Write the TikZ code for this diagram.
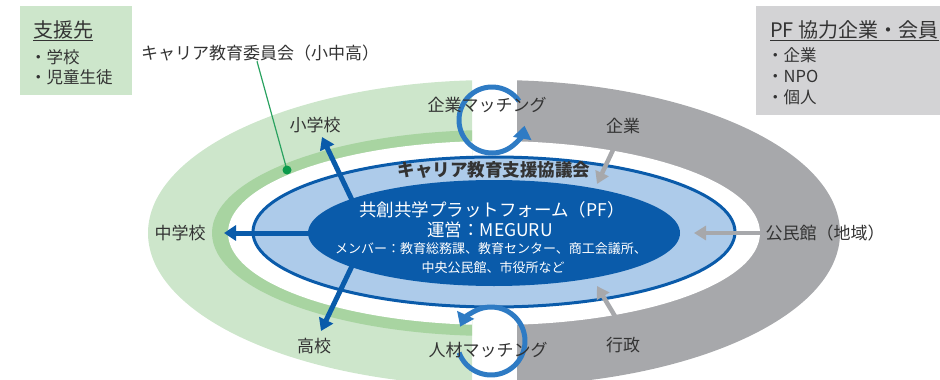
\documentclass[tikz,border=0pt]{standalone}
\usepackage{fontspec}
\setmainfont{Noto Sans CJK JP}
\usetikzlibrary{arrows.meta,shapes.geometric}
\definecolor{lgreen}{HTML}{CDE6CB}
\definecolor{dgreen}{HTML}{A8D4A1}
\definecolor{ringgray}{HTML}{A7A8AB}
\definecolor{boxgray}{HTML}{D3D3D5}
\definecolor{lblue}{HTML}{ADCBEA}
\definecolor{dblue}{HTML}{0A5BAA}
\definecolor{cblue}{HTML}{2E7BC4}
\definecolor{txt}{HTML}{333333}
\definecolor{gline}{HTML}{2AA260}
\definecolor{gdot}{HTML}{0B9A4B}
\begin{document}
\begin{tikzpicture}[x=1pt,y=-1pt,
  lbl/.style={text=txt, font=\fontsize{17}{20}\selectfont, inner sep=0pt},
  boxtitle/.style={text=txt, font=\fontsize{20}{24}\selectfont, inner sep=0pt, anchor=west},
  boxitem/.style={text=txt, font=\fontsize{16.5}{20}\selectfont, inner sep=0pt, anchor=west},
  wtxt/.style={text=white, inner sep=0pt},
  bluearrow/.style={draw=dblue, line width=5pt, -{Triangle[length=12pt,width=15pt]}},
  grayarrow/.style={draw=ringgray, line width=4.5pt, -{Triangle[length=12pt,width=14pt]}},
  cyc/.style={draw=cblue, line width=5pt, -{Triangle[length=13pt,width=18pt]}},
]
\useasboundingbox (0,0) rectangle (940,380);
\coordinate (C) at (494,233);
% green half ring
\begin{scope}
\clip (0,0) rectangle (472,380);
\fill[lgreen] (C) ellipse [x radius=346pt, y radius=153pt];
\fill[dgreen] (C) ellipse [x radius=282pt, y radius=103pt];
\fill[white] (C) ellipse [x radius=266pt, y radius=92pt];
\end{scope}
% gray half ring
\begin{scope}
\clip (517,0) rectangle (945,380);
\fill[ringgray] (C) ellipse [x radius=346pt, y radius=153pt];
\fill[white] (C) ellipse [x radius=266pt, y radius=92pt];
\end{scope}
% council ellipse
\node[ellipse, draw=dblue, line width=3pt, fill=lblue, minimum width=482pt, minimum height=150pt, inner sep=0pt] (council) at (494,232) {};
% blue arrows
\coordinate (shouT) at (352,200); \coordinate (shouH) at (322,137);
\coordinate (chuT) at (320,233);  \coordinate (chuH) at (224,233);
\coordinate (kouT) at (352,266);  \coordinate (kouH) at (321,331);
\draw[bluearrow] (shouT) -- (shouH);
\draw[bluearrow] (chuT) -- (chuH);
\draw[bluearrow] (kouT) -- (kouH);
% gray arrows
\coordinate (kigT) at (620,135); \coordinate (kigH) at (597,184);
\coordinate (komT) at (765,233); \coordinate (komH) at (694,233);
\coordinate (gyoT) at (622,328); \coordinate (gyoH) at (597,286);
\draw[grayarrow] (kigT) -- (kigH);
\draw[grayarrow] (komT) -- (komH);
\draw[grayarrow] (gyoT) -- (gyoH);
% platform ellipse
\node[ellipse, fill=dblue, minimum width=372pt, minimum height=106pt, inner sep=0pt] (pf) at (494,233) {};
% cycle arrows
\coordinate (topc) at (492,120);
\coordinate (botc) at (491,341);
\draw[cyc] (topc) ++(35:33pt) arc[start angle=35, end angle=350, radius=33pt];
\draw[cyc] (botc) ++(200:34pt) arc[start angle=200, end angle=515, radius=34pt];
% labels on rings
\node[lbl] (shou) at (315,125) {小学校};
\node[lbl] (chu) at (180,233) {中学校};
\node[lbl] (kou) at (314,346) {高校};
\node[lbl] (kmatch) at (487,105) {企業マッチング};
\node[lbl] (jmatch) at (488,350) {人材マッチング};
\node[lbl] (kigyo) at (623,126) {企業};
\node[lbl] (kominkan) at (825,233) {公民館（地域）};
\node[lbl] (gyosei) at (623,345) {行政};
\node[lbl] (iinkai) at (260,53) {キャリア教育委員会（小中高）};
\coordinate (ldot) at (287,170);
\draw[gline, line width=1.2pt] ([xshift=-3pt]iinkai.south) -- (ldot);
\fill[gdot] (ldot) circle (4.5pt);
% center texts
\node[text=txt, inner sep=0pt, font=\fontsize{17.5}{20}\selectfont\bfseries] (cname) at (494,170) {キャリア教育支援協議会};
\node[wtxt, font=\fontsize{17.5}{20}\selectfont] (pf1) at (492,210) {共創共学プラットフォーム（PF）};
\node[wtxt, font=\fontsize{17.5}{20}\selectfont] (pf2) at (490,230) {運営：MEGURU};
\node[wtxt, font=\fontsize{13}{16}\selectfont] (pf3) at (491,249) {メンバー：教育総務課、教育センター、商工会議所、};
\node[wtxt, font=\fontsize{13}{16}\selectfont] (pf4) at (493,268) {中央公民館、市役所など};
% support box
\fill[lgreen] (20,6) rectangle (132,95);
\node[boxtitle] (st) at (33,30) {支援先};
\draw[txt, line width=0.9pt] ([yshift=-2.5pt]st.base west) -- ([yshift=-2.5pt]st.base east);
\node[boxitem] (s1) at (30,57) {・学校};
\node[boxitem] (s2) at (30,77) {・児童生徒};
% PF box
\fill[boxgray] (756,6) rectangle (945,115);
\node[boxtitle] (pt) at (770,30) {PF 協力企業・会員};
\draw[txt, line width=0.9pt] ([yshift=-2.5pt]pt.base west) -- ([yshift=-2.5pt]pt.base east);
\node[boxitem] (p1) at (767,55) {・企業};
\node[boxitem] (p2) at (767,76) {・NPO};
\node[boxitem] (p3) at (767,97) {・個人};
\end{tikzpicture}
\end{document}
